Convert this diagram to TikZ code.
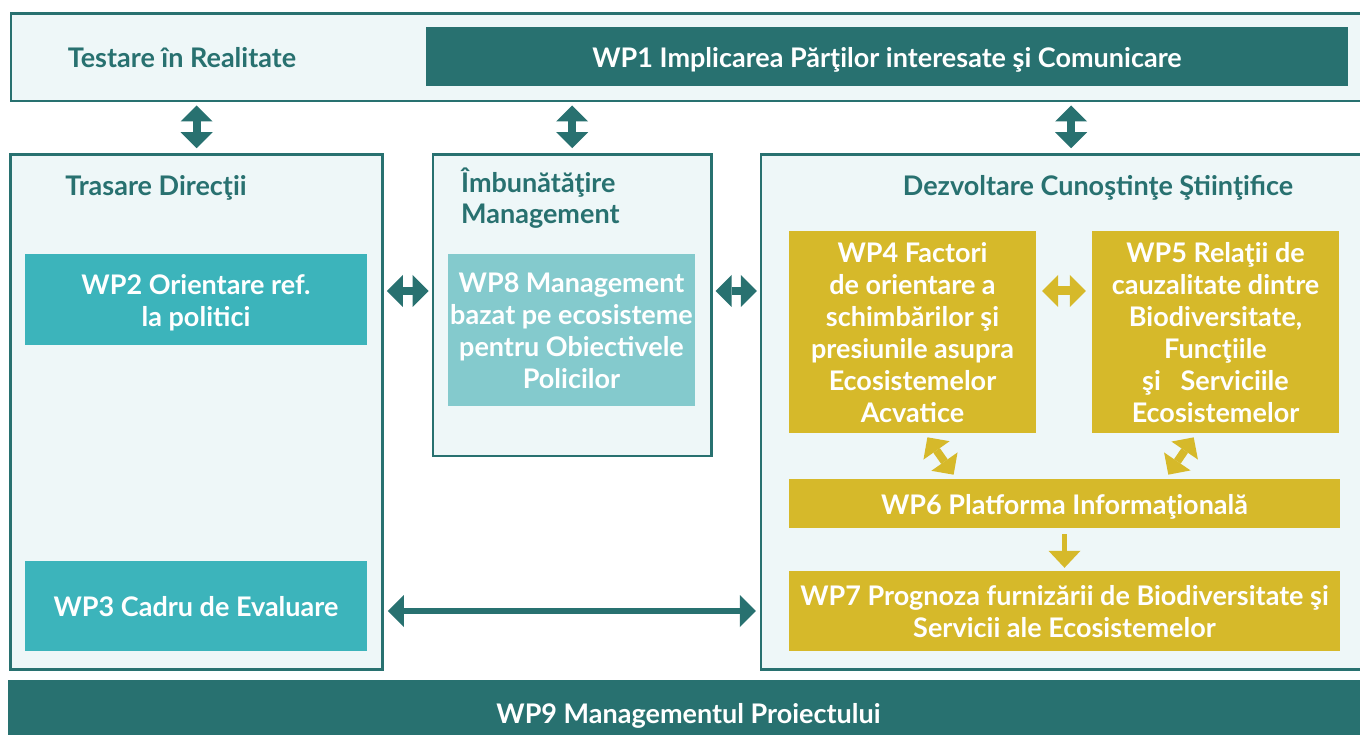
\documentclass[tikz,border=0pt]{standalone}
\usepackage{fontspec}
\setmainfont{Lato}
\usepackage{tikz}
\definecolor{DarkTeal}{HTML}{287170}
\definecolor{PaleTeal}{HTML}{EEF7F8}
\definecolor{MidTeal}{HTML}{3CB4BB}
\definecolor{LightTeal}{HTML}{84CACD}
\definecolor{Mustard}{HTML}{D6B92A}
\usetikzlibrary{arrows.meta,positioning,calc}
\newcommand{\wptext}[1]{\raisebox{-4.5pt}[\height][\depth]{\begin{tabular}{@{}c@{}}#1\end{tabular}}}

\begin{document}
\begin{tikzpicture}[x=1pt, y=-1pt,
    panel/.style={draw=DarkTeal, line width=2.5pt, fill=PaleTeal, inner sep=0pt},
    heading/.style={text=DarkTeal, font=\bfseries\fontsize{27}{31}\selectfont, inner sep=0pt},
    wp/.style={text=white, font=\bfseries\fontsize{27}{32}\selectfont, inner sep=0pt},
    tealarrow/.style={DarkTeal, line width=8pt, {Triangle[width=32pt, length=16pt, line width=0pt]}-{Triangle[width=32pt, length=16pt, line width=0pt]}, shorten <=3pt, shorten >=3pt},
    goldarrow/.style={Mustard, line width=9pt, {Triangle[width=32pt, length=16pt, line width=0pt]}-{Triangle[width=32pt, length=16pt, line width=0pt]}, shorten <=6pt, shorten >=6pt}]
    \clip (0,0) rectangle (1360,735);
    \fill[white] (0,0) rectangle (1360,735);

    % Draw the panels
    \node[panel, minimum width=1369pt, minimum height=87.5pt] (field) at (695.5,57.5) {};
    \node[panel, minimum width=372pt, minimum height=515pt] (trace) at (196.7,412) {};
    \node[panel, minimum width=278.5pt, minimum height=301.5pt] (mgmt) at (572.2,305.2) {};
    \node[panel, minimum width=620pt, minimum height=515pt] (science) at (1071.2,412) {};

    % Panel headings
    \node[heading] (fieldlabel) at (182,58) {Testare în Realitate};
    \node[heading] (tracelabel) at (156,187.5) {Trasare Direcţii};
    \node[heading, anchor=west, align=left] (mgmtlabel) at (461,198) {Îmbunătăţire\\Management};
    \node[heading] (sciencelabel) at (1098,187.5) {Dezvoltare Cunoştinţe Ştiinţifice};

    % Draw the work packages
    \node[wp, fill=DarkTeal, minimum width=922pt, minimum height=59pt] (wp1) at (887,56.5) {\wptext{WP1 Implicarea Părţilor interesate şi Comunicare}};
    \node[wp, fill=MidTeal, minimum width=342pt, minimum height=91pt] (wp2) at (196,299.5) {\wptext{WP2 Orientare ref.\\la politici}};
    \node[wp, fill=MidTeal, minimum width=342pt, minimum height=90pt] (wp3) at (196,606) {\wptext{WP3 Cadru de Evaluare}};
    \node[wp, fill=LightTeal, minimum width=247pt, minimum height=152pt] (wp8) at (571.5,330) {\wptext{WP8 Management\\bazat pe ecosisteme\\pentru Obiectivele\\Policilor}};
    \node[wp, fill=Mustard, minimum width=247pt, minimum height=202pt] (wp4) at (912.5,332) {\wptext{WP4 Factori\\de orientare a\\schimbărilor şi\\presiunile asupra\\Ecosistemelor\\Acvatice}};
    \node[wp, fill=Mustard, minimum width=247pt, minimum height=202pt] (wp5) at (1215.5,332) {\wptext{WP5 Relaţii de\\cauzalitate dintre\\Biodiversitate,\\Funcţiile\\şi~~~Serviciile\\Ecosistemelor}};
    \node[wp, fill=Mustard, minimum width=551pt, minimum height=49pt] (wp6) at (1064.5,503.5) {\wptext{WP6 Platforma Informaţională}};
    \node[wp, fill=Mustard, minimum width=551pt, minimum height=80pt] (wp7) at (1064.5,611) {\wptext{WP7 Prognoza furnizării de Biodiversitate şi\\Servicii ale Ecosistemelor}};
    \node[wp, fill=DarkTeal, minimum width=1361pt, minimum height=66pt] (wp9) at (688.5,713) {\wptext{WP9 Managementul Proiectului}};

    % Arrows from the testing panel
    \foreach \p in {trace, mgmt, science}{
        \draw[tealarrow, shorten >=5pt] (\p.north |- field.south) -- (\p.north);
    }

    % Arrows between the panels
    \coordinate (linkrow) at (0,291);
    \draw[tealarrow] (trace.east |- linkrow) -- (mgmt.west |- linkrow);
    \draw[tealarrow] (mgmt.east |- linkrow) -- (science.west |- linkrow);
    \draw[tealarrow, line width=6pt, shorten <=4pt, shorten >=4pt] (trace.east |- wp7) -- (science.west |- wp7);

    % Arrows inside the science panel
    \draw[goldarrow] (wp4.east |- linkrow) -- (wp5.west |- linkrow);
    \draw[goldarrow, line width=8pt, shorten <=5pt, shorten >=5pt] ([xshift=12pt]wp4.south) -- ([xshift=44pt]wp4.south |- wp6.north);
    \draw[goldarrow, line width=8pt, shorten <=5pt, shorten >=5pt] ([xshift=-19pt]wp5.south) -- ([xshift=-50pt]wp5.south |- wp6.north);
    \draw[Mustard, line width=5pt, -{Triangle[width=32pt, length=17pt, line width=0pt]}, shorten <=6pt, shorten >=3pt] (wp6) -- (wp7);
\end{tikzpicture}
\end{document}
